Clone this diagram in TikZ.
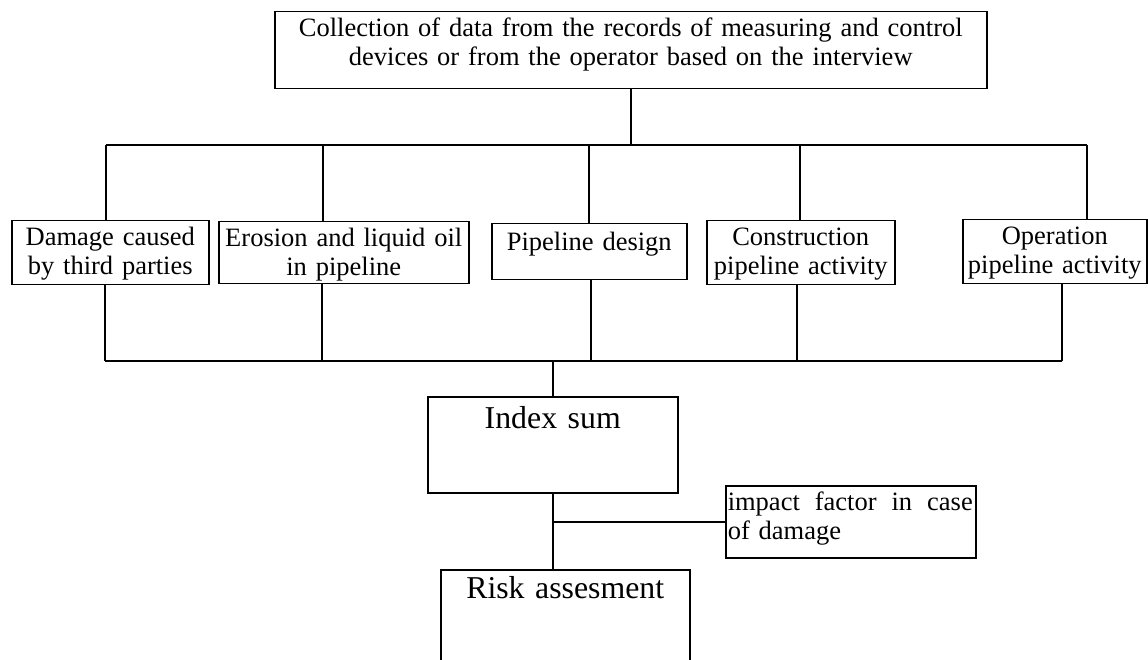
\documentclass[tikz,border=0pt]{standalone}
\usepackage{fontspec}
\setmainfont{Liberation Serif}
\begin{document}
\begin{tikzpicture}[x=1pt, y=-1pt,
                    line width=1.5pt,
                    box/.style={draw, inner sep=0pt, anchor=north west, align=center,
                                text height=25pt, font=\fontsize{26.5}{29}\selectfont},
                    bigbox/.style={box, font=\fontsize{31.8}{36}\selectfont}
                    ]
    \useasboundingbox (0,0) rectangle (1148,660);
    \clip (0,0) rectangle (1148,660);

    \node[box, text width=712pt, text depth=52pt] (top) at (274,11)
        {Collection of data from the records of measuring and control\\devices or from the operator based on the interview};

    \node[box, text width=197pt, text depth=39pt] (b1) at (11,220) {Damage caused\\by third parties};
    \node[box, text width=250pt, text depth=37pt] (b2) at (218,221) {Erosion and liquid oil\\in pipeline};
    \node[box, text width=195pt, text height=27pt, text depth=29pt] (b3) at (491,223) {Pipeline design};
    \node[box, text width=188pt, text depth=39pt] (b4) at (706,220) {Construction\\pipeline activity};
    \node[box, text width=184pt, text depth=39pt] (b5) at (962,219) {Operation\\pipeline activity};

    \node[bigbox, text width=250pt, text height=32pt, text depth=64pt] (idx) at (427,396) {Index sum};
    \node[box, align=left, inner xsep=2pt, text width=246pt, text depth=47pt] (imp) at (725,485)
        {\hbox to 245pt{impact\hfill factor\hfill in\hfill case}\\of damage};
    \node[bigbox, text width=249pt, text height=29pt, text depth=120pt] (risk) at (440,569) {Risk assesment};

    % upper and lower bus
    \foreach \i/\x in {1/106,2/323,3/589,4/800,5/1087}{
        \coordinate (u\i) at (\x,145);
    }
    \foreach \i/\x in {1/105,2/322,3/591,4/797,5/1062}{
        \coordinate (l\i) at (\x,361);
    }

    \draw (top.south) -- (top.south |- u1);
    \draw (u1) -- (u5);
    \foreach \i in {1,...,5}{
        \draw (u\i) -- (u\i |- b\i.north);
        \draw (l\i |- b\i.south) -- (l\i);
    }
    \draw (l1) -- (l5);

    \draw (idx.north |- l1) -- (idx.north);
    \draw (idx.south) -- (idx.south |- risk.north);
    \draw (idx.south |- imp.west) -- (imp.west);
\end{tikzpicture}
\end{document}
